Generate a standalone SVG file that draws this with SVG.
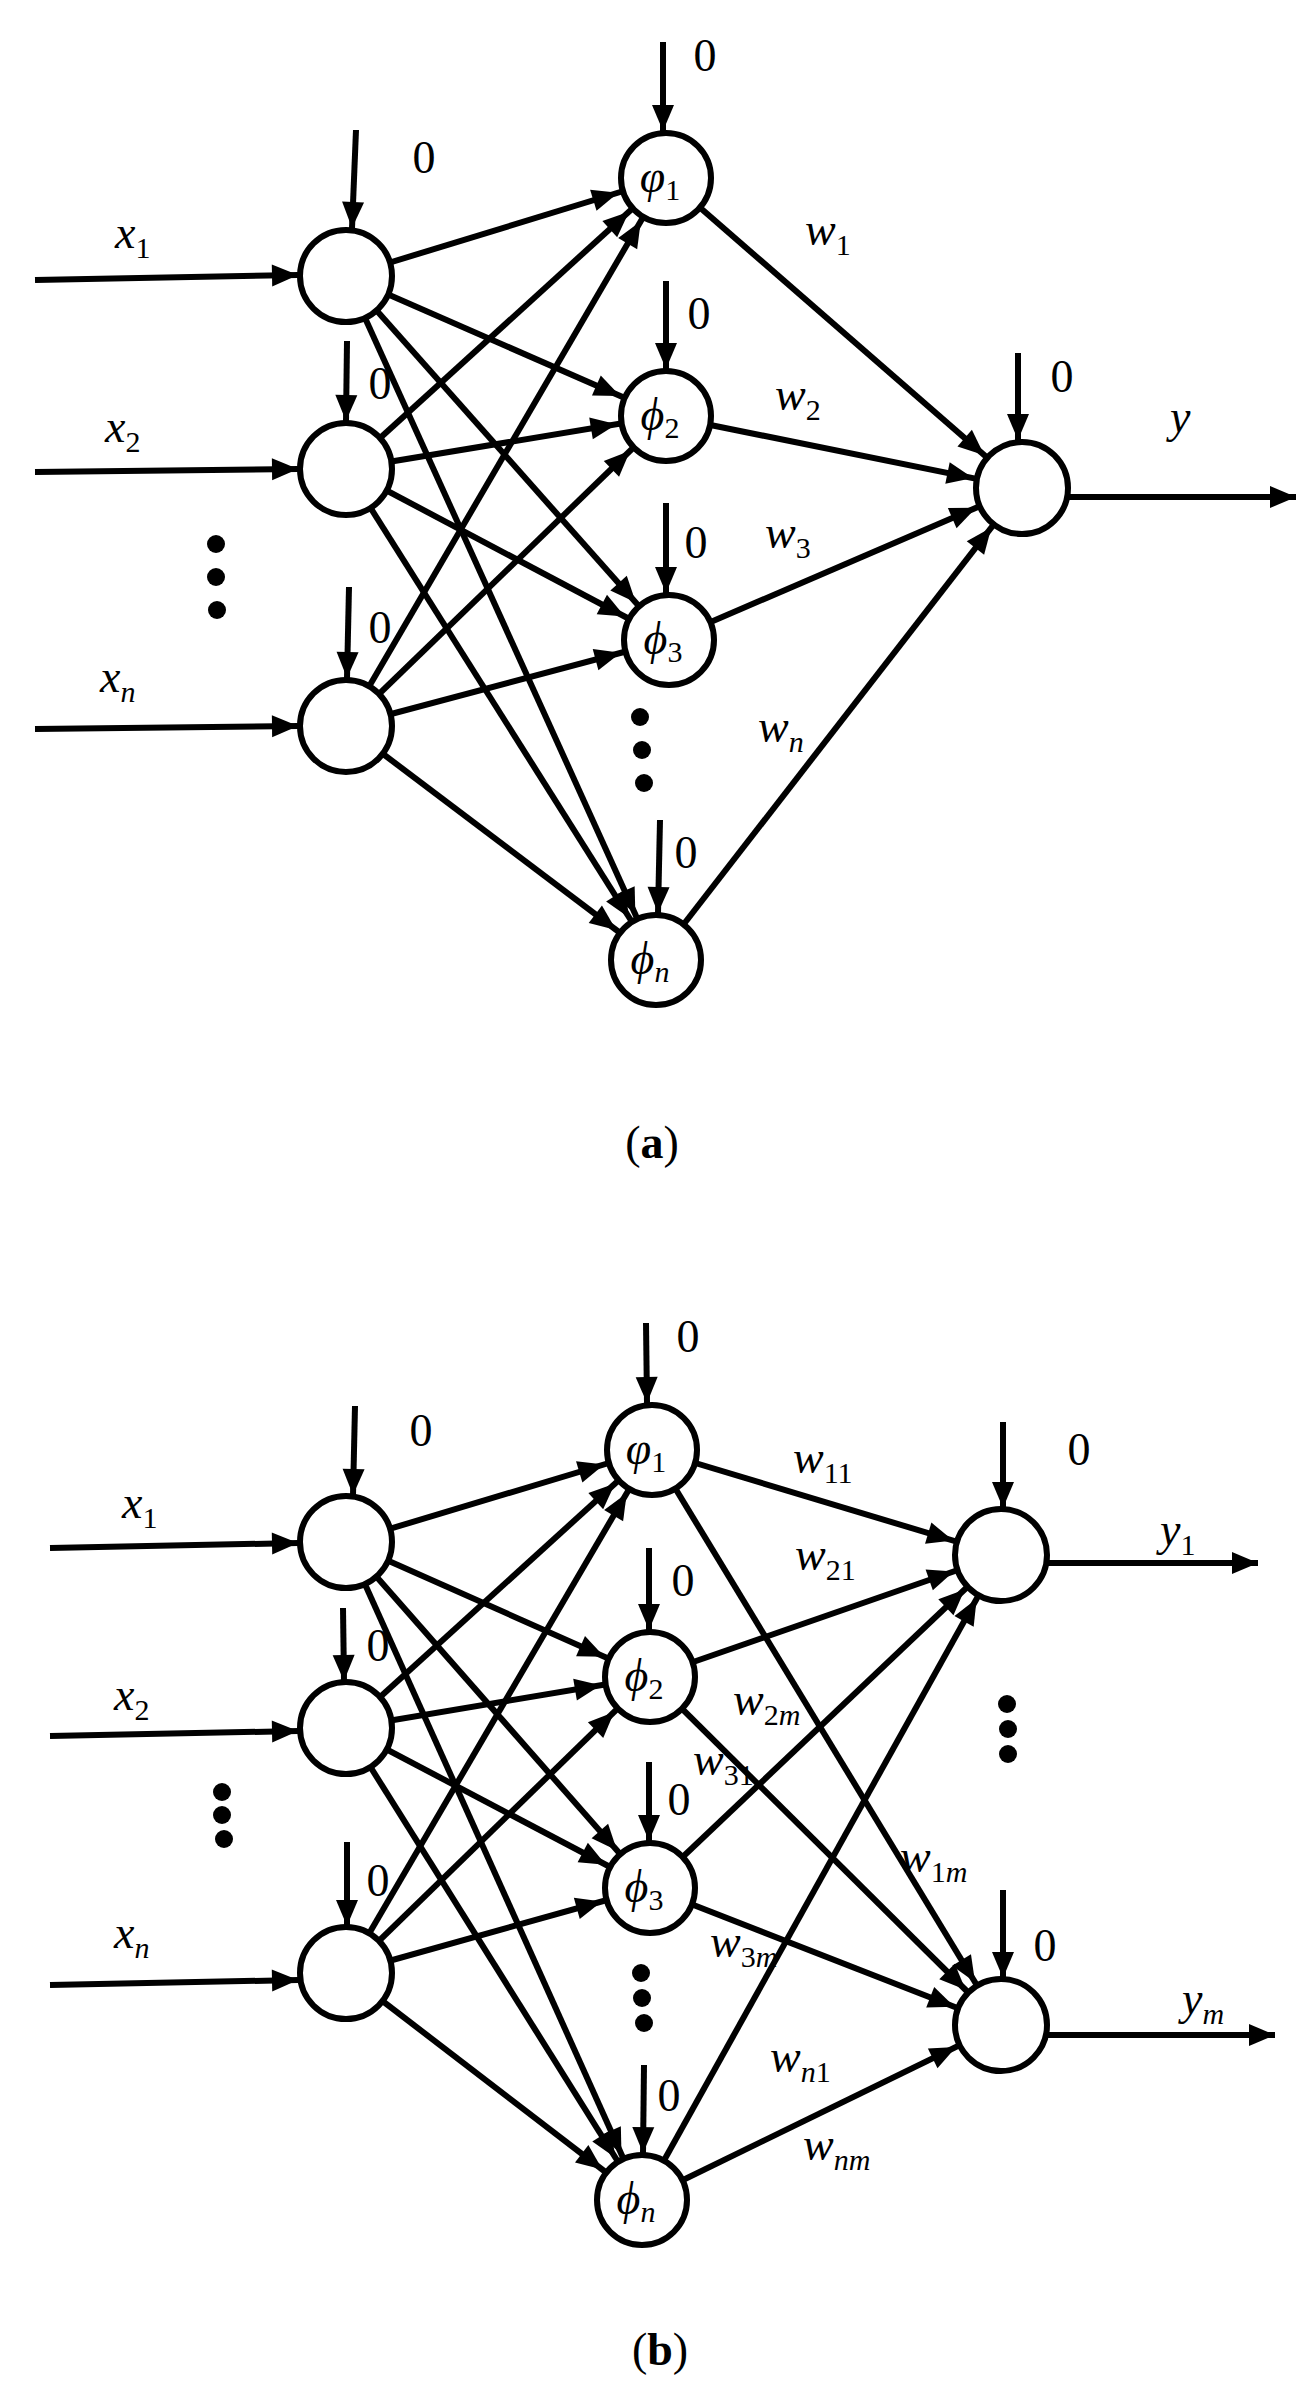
<svg xmlns="http://www.w3.org/2000/svg" width="1304" height="2400" viewBox="0 0 1304 2400">
<style>
.c{stroke:#000;stroke-width:6;fill:none}
.n{stroke:#000;stroke-width:6;fill:#fff}
.t{font-family:"Liberation Serif",serif;font-size:46px;fill:#000}
.i{font-style:italic}
.s{font-size:30px;font-style:normal}
.si{font-size:30px;font-style:italic}
.d{fill:#000}
</style>
<defs>
<marker id="h" markerUnits="userSpaceOnUse" markerWidth="120" markerHeight="30" refX="76" refY="11" orient="auto" overflow="visible"><path d="M0,0 L26,11 L0,22 z" fill="#000"/></marker>
<marker id="a" markerUnits="userSpaceOnUse" markerWidth="40" markerHeight="30" refX="26" refY="11" orient="auto" overflow="visible"><path d="M0,0 L26,11 L0,22 z" fill="#000"/></marker>
</defs>
<g id="connectors" class="c">
<!-- (a) inputs -->
<line x1="35" y1="280" x2="298" y2="275" marker-end="url(#a)"/>
<line x1="35" y1="472" x2="298" y2="469" marker-end="url(#a)"/>
<line x1="35" y1="729" x2="298" y2="726" marker-end="url(#a)"/>
<line x1="1069" y1="497" x2="1296" y2="497" marker-end="url(#a)"/>
<!-- biases (a) -->
<line x1="356" y1="130" x2="352" y2="228" marker-end="url(#a)"/>
<line x1="347" y1="341" x2="346" y2="421" marker-end="url(#a)"/>
<line x1="349" y1="587" x2="347" y2="678" marker-end="url(#a)"/>
<line x1="663" y1="42" x2="663" y2="131" marker-end="url(#a)"/>
<line x1="666" y1="281" x2="666" y2="369" marker-end="url(#a)"/>
<line x1="666" y1="503" x2="666" y2="593" marker-end="url(#a)"/>
<line x1="660" y1="820" x2="658" y2="913" marker-end="url(#a)"/>
<line x1="1018" y1="353" x2="1018" y2="440" marker-end="url(#a)"/>
<!-- (a) input -> phi -->
<g marker-end="url(#h)">
<line x1="346" y1="276" x2="666" y2="178"/>
<line x1="346" y1="276" x2="666" y2="416"/>
<line x1="346" y1="276" x2="669" y2="640"/>
<line x1="346" y1="276" x2="656" y2="960"/>
<line x1="346" y1="469" x2="666" y2="178"/>
<line x1="346" y1="469" x2="666" y2="416"/>
<line x1="346" y1="469" x2="669" y2="640"/>
<line x1="346" y1="469" x2="656" y2="960"/>
<line x1="346" y1="726" x2="666" y2="178"/>
<line x1="346" y1="726" x2="666" y2="416"/>
<line x1="346" y1="726" x2="669" y2="640"/>
<line x1="346" y1="726" x2="656" y2="960"/>
<line x1="666" y1="178" x2="1022" y2="488"/>
<line x1="666" y1="416" x2="1022" y2="488"/>
<line x1="669" y1="640" x2="1022" y2="488"/>
<line x1="656" y1="960" x2="1022" y2="488"/>
</g>
<!-- (b) inputs/outputs -->
<line x1="50" y1="1548" x2="298" y2="1543" marker-end="url(#a)"/>
<line x1="50" y1="1736" x2="298" y2="1731" marker-end="url(#a)"/>
<line x1="50" y1="1985" x2="298" y2="1980" marker-end="url(#a)"/>
<line x1="1045" y1="1563" x2="1258" y2="1563" marker-end="url(#a)"/>
<line x1="1045" y1="2035" x2="1275" y2="2035" marker-end="url(#a)"/>
<!-- biases (b) -->
<line x1="355" y1="1406" x2="353" y2="1495" marker-end="url(#a)"/>
<line x1="343" y1="1608" x2="344" y2="1681" marker-end="url(#a)"/>
<line x1="347" y1="1842" x2="347" y2="1926" marker-end="url(#a)"/>
<line x1="646" y1="1323" x2="647" y2="1403" marker-end="url(#a)"/>
<line x1="649" y1="1548" x2="649" y2="1630" marker-end="url(#a)"/>
<line x1="649" y1="1762" x2="649" y2="1841" marker-end="url(#a)"/>
<line x1="644" y1="2065" x2="643" y2="2153" marker-end="url(#a)"/>
<line x1="1003" y1="1422" x2="1003" y2="1508" marker-end="url(#a)"/>
<line x1="1003" y1="1890" x2="1003" y2="1978" marker-end="url(#a)"/>
<g marker-end="url(#h)">
<line x1="346" y1="1542" x2="652" y2="1450"/>
<line x1="346" y1="1542" x2="650" y2="1677"/>
<line x1="346" y1="1542" x2="650" y2="1888"/>
<line x1="346" y1="1542" x2="642" y2="2200"/>
<line x1="346" y1="1728" x2="652" y2="1450"/>
<line x1="346" y1="1728" x2="650" y2="1677"/>
<line x1="346" y1="1728" x2="650" y2="1888"/>
<line x1="346" y1="1728" x2="642" y2="2200"/>
<line x1="346" y1="1973" x2="652" y2="1450"/>
<line x1="346" y1="1973" x2="650" y2="1677"/>
<line x1="346" y1="1973" x2="650" y2="1888"/>
<line x1="346" y1="1973" x2="642" y2="2200"/>
<line x1="652" y1="1450" x2="1001" y2="1555"/>
<line x1="652" y1="1450" x2="1001" y2="2025"/>
<line x1="650" y1="1677" x2="1001" y2="1555"/>
<line x1="650" y1="1677" x2="1001" y2="2025"/>
<line x1="650" y1="1888" x2="1001" y2="1555"/>
<line x1="650" y1="1888" x2="1001" y2="2025"/>
<line x1="642" y1="2200" x2="1001" y2="1555"/>
<line x1="642" y1="2200" x2="1001" y2="2025"/>
</g>
</g>
<!-- (a) nodes -->
<g id="a_in1"><circle class="n" cx="346" cy="276" r="46"/></g>
<g id="a_in2"><circle class="n" cx="346" cy="469" r="46"/></g>
<g id="a_inn"><circle class="n" cx="346" cy="726" r="46"/></g>
<g id="a_phi1"><circle class="n" cx="666" cy="178" r="45"/><text class="t i" x="660" y="192" text-anchor="middle">φ<tspan class="s" dy="8">1</tspan></text></g>
<g id="a_phi2"><circle class="n" cx="666" cy="416" r="45"/><text class="t i" x="660" y="430" text-anchor="middle">ϕ<tspan class="s" dy="8">2</tspan></text></g>
<g id="a_phi3"><circle class="n" cx="669" cy="640" r="45"/><text class="t i" x="663" y="654" text-anchor="middle">ϕ<tspan class="s" dy="8">3</tspan></text></g>
<g id="a_phin"><circle class="n" cx="656" cy="960" r="45"/><text class="t i" x="650" y="974" text-anchor="middle">ϕ<tspan class="si" dy="8">n</tspan></text></g>
<g id="a_out"><circle class="n" cx="1022" cy="488" r="46"/></g>
<g id="a_labels" class="t">
<text x="424" y="173" text-anchor="middle">0</text>
<text x="380" y="399" text-anchor="middle">0</text>
<text x="380" y="643" text-anchor="middle">0</text>
<text x="705" y="71" text-anchor="middle">0</text>
<text x="699" y="329" text-anchor="middle">0</text>
<text x="696" y="558" text-anchor="middle">0</text>
<text x="686" y="868" text-anchor="middle">0</text>
<text x="1062" y="392" text-anchor="middle">0</text>
<text class="i" x="115" y="248">x<tspan class="s" dy="10">1</tspan></text>
<text class="i" x="105" y="442">x<tspan class="s" dy="10">2</tspan></text>
<text class="i" x="100" y="692">x<tspan class="si" dy="10">n</tspan></text>
<text class="i" x="805" y="245">w<tspan class="s" dy="10">1</tspan></text>
<text class="i" x="775" y="410">w<tspan class="s" dy="10">2</tspan></text>
<text class="i" x="765" y="548">w<tspan class="s" dy="10">3</tspan></text>
<text class="i" x="758" y="742">w<tspan class="si" dy="10">n</tspan></text>
<text class="i" x="1170" y="432">y</text>
<text x="652" y="1158" text-anchor="middle">(<tspan font-weight="bold">a</tspan>)</text>
</g>
<g id="a_dots" class="d">
<circle cx="216" cy="544" r="9"/><circle cx="216" cy="577" r="9"/><circle cx="217" cy="610" r="9"/>
<circle cx="640" cy="717" r="9"/><circle cx="642" cy="750" r="9"/><circle cx="644" cy="783" r="9"/>
</g>
<!-- (b) nodes -->
<g id="b_in1"><circle class="n" cx="346" cy="1542" r="46"/></g>
<g id="b_in2"><circle class="n" cx="346" cy="1728" r="46"/></g>
<g id="b_inn"><circle class="n" cx="346" cy="1973" r="46"/></g>
<g id="b_phi1"><circle class="n" cx="652" cy="1450" r="45"/><text class="t i" x="646" y="1464" text-anchor="middle">φ<tspan class="s" dy="8">1</tspan></text></g>
<g id="b_phi2"><circle class="n" cx="650" cy="1677" r="45"/><text class="t i" x="644" y="1691" text-anchor="middle">ϕ<tspan class="s" dy="8">2</tspan></text></g>
<g id="b_phi3"><circle class="n" cx="650" cy="1888" r="45"/><text class="t i" x="644" y="1902" text-anchor="middle">ϕ<tspan class="s" dy="8">3</tspan></text></g>
<g id="b_phin"><circle class="n" cx="642" cy="2200" r="45"/><text class="t i" x="636" y="2214" text-anchor="middle">ϕ<tspan class="si" dy="8">n</tspan></text></g>
<g id="b_out1"><circle class="n" cx="1001" cy="1555" r="46"/></g>
<g id="b_outm"><circle class="n" cx="1001" cy="2025" r="46"/></g>
<g id="b_labels" class="t">
<text x="421" y="1446" text-anchor="middle">0</text>
<text x="378" y="1661" text-anchor="middle">0</text>
<text x="378" y="1896" text-anchor="middle">0</text>
<text x="688" y="1352" text-anchor="middle">0</text>
<text x="683" y="1596" text-anchor="middle">0</text>
<text x="679" y="1815" text-anchor="middle">0</text>
<text x="669" y="2111" text-anchor="middle">0</text>
<text x="1079" y="1465" text-anchor="middle">0</text>
<text x="1045" y="1961" text-anchor="middle">0</text>
<text class="i" x="122" y="1518">x<tspan class="s" dy="10">1</tspan></text>
<text class="i" x="114" y="1710">x<tspan class="s" dy="10">2</tspan></text>
<text class="i" x="114" y="1948">x<tspan class="si" dy="10">n</tspan></text>
<text class="i" x="1160" y="1545">y<tspan class="s" dy="10">1</tspan></text>
<text class="i" x="1182" y="2014">y<tspan class="si" dy="10">m</tspan></text>
<text class="i" x="793" y="1473">w<tspan class="s" dy="10">11</tspan></text>
<text class="i" x="795" y="1570">w<tspan class="s" dy="10">21</tspan></text>
<text class="i" x="733" y="1715">w<tspan class="s" dy="10">2</tspan><tspan class="si">m</tspan></text>
<text class="i" x="693" y="1775">w<tspan class="s" dy="10">31</tspan></text>
<text class="i" x="900" y="1872">w<tspan class="s" dy="10">1</tspan><tspan class="si">m</tspan></text>
<text class="i" x="710" y="1957">w<tspan class="s" dy="10">3</tspan><tspan class="si">m</tspan></text>
<text class="i" x="770" y="2072">w<tspan class="si" dy="10">n</tspan><tspan class="s">1</tspan></text>
<text class="i" x="803" y="2160">w<tspan class="si" dy="10">nm</tspan></text>
<text x="660" y="2365" text-anchor="middle">(<tspan font-weight="bold">b</tspan>)</text>
</g>
<g id="b_dots" class="d">
<circle cx="222" cy="1792" r="9"/><circle cx="222" cy="1815" r="9"/><circle cx="224" cy="1839" r="9"/>
<circle cx="641" cy="1973" r="9"/><circle cx="642" cy="1998" r="9"/><circle cx="644" cy="2023" r="9"/>
<circle cx="1007" cy="1704" r="9"/><circle cx="1008" cy="1729" r="9"/><circle cx="1008" cy="1754" r="9"/>
</g>
</svg>
